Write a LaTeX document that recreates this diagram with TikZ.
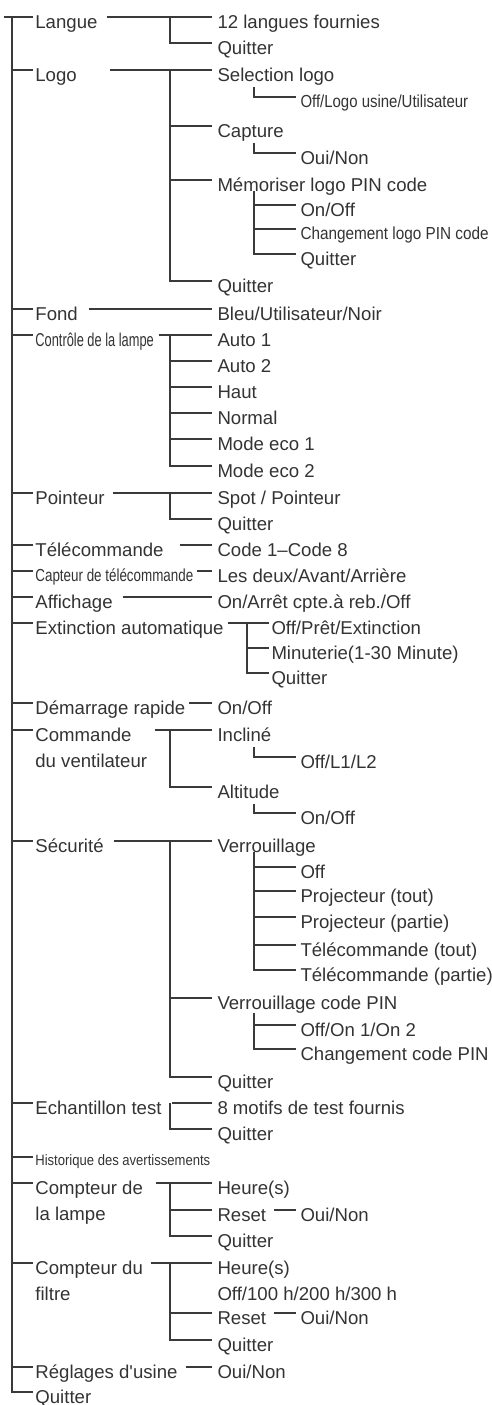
\documentclass[tikz,border=0pt]{standalone}
\usepackage{fontspec}
\usepackage{graphicx}
\setmainfont{Liberation Sans}[Ligatures=TeXOff]
\usetikzlibrary{calc}
\definecolor{lc}{HTML}{3A3A3A}
\definecolor{tc}{HTML}{333333}
\begin{document}
\begin{tikzpicture}[x=1pt,y=-1pt,
  ln/.style={draw=lc, line width=1.2pt},
  t/.style={inner sep=0pt, outer sep=0pt, anchor=west, text=tc,
    font=\fontsize{18.6}{20}\selectfont, text height=24.6pt, text depth=2pt},
  tL/.style={t, font=\fontsize{18.6}{20}\selectfont, text height=24.6pt, text depth=2pt},
  tm/.style={t, font=\fontsize{17.4}{19}\selectfont, text height=23.2pt, text depth=2pt},
  ts/.style={t, font=\fontsize{15}{17}\selectfont, text height=19.6pt, text depth=2pt}]
\useasboundingbox (0,0) rectangle (492,1405);
% columns
\coordinate (X0) at (4,0);
\coordinate (T) at (12,0);
\coordinate (E1) at (33,0);
\coordinate (B2) at (170,0);
\coordinate (E2) at (212,0);
\coordinate (B3) at (254,0);
\coordinate (E3) at (296,0);
\coordinate (BX) at (247,0);
\coordinate (EX) at (269,0);
% level 1
\node[t] (l1) at (35.4,17) {Langue};
\node[t] (l2) at (35.4,70) {Logo};
\node[t] (l3) at (35.4,309) {Fond};
\node[tL] (l4) at (35.4,335) {\scalebox{0.69}[1]{Contrôle de la lampe}};
\node[t] (l5) at (35.4,493) {Pointeur};
\node[t] (l6) at (35.4,545) {Télécommande};
\node[tm] (l7) at (35.4,571) {\scalebox{0.77}[1]{Capteur de télécommande}};
\node[t] (l8) at (35.4,597) {Affichage};
\node[t] (l9) at (35.4,623) {Extinction automatique};
\node[t] (l10) at (35.4,703) {Démarrage rapide};
\node[t] (l11) at (35.4,730) {Commande};
\node[t] (l11b) at (35.4,756.5) {du ventilateur};
\node[t] (l12) at (35.4,841) {Sécurité};
\node[t] (l13) at (35.4,1103) {Echantillon test};
\node[ts] (l14) at (35.4,1157) {\scalebox{0.87}[1]{Historique des avertissements}};
\node[t] (l15) at (35.4,1183) {Compteur de};
\node[t] (l15b) at (35.4,1209.5) {la lampe};
\node[t] (l16) at (35.4,1263) {Compteur du};
\node[t] (l16b) at (35.4,1289.5) {filtre};
\node[t] (l17) at (35.4,1367) {Réglages d'usine};
\node[t] (l18) at (35.4,1392) {Quitter};
% level 2
\node[t] (a1) at (217.5,17) {12 langues fournies};
\node[t] (a2) at (217.5,43) {Quitter};
\node[t] (b1) at (217.5,70) {Selection logo};
\node[t] (b2) at (217.5,126) {Capture};
\node[t] (b3) at (217.5,180) {Mémoriser logo PIN code};
\node[t] (b4) at (217.5,281) {Quitter};
\node[t] (c1) at (217.5,309) {Bleu/Utilisateur/Noir};
\node[t] (d1) at (217.5,335) {Auto 1};
\node[t] (d2) at (217.5,361) {Auto 2};
\node[t] (d3) at (217.5,387) {Haut};
\node[t] (d4) at (217.5,413) {Normal};
\node[t] (d5) at (217.5,439) {Mode eco 1};
\node[t] (d6) at (217.5,466) {Mode eco 2};
\node[t] (e1) at (217.5,493) {Spot / Pointeur};
\node[t] (e2) at (217.5,519) {Quitter};
\node[t] (f1) at (217.5,545) {Code 1–Code 8};
\node[t] (g1) at (217.5,571) {Les deux/Avant/Arrière};
\node[t] (h1) at (217.5,597) {On/Arrêt cpte.à reb./Off};
\node[t] (i1) at (271.5,623) {Off/Prêt/Extinction};
\node[t] (i2) at (271.5,648) {Minuterie(1-30 Minute)};
\node[t] (i3) at (271.5,673) {Quitter};
\node[t] (j1) at (217.5,703) {On/Off};
\node[t] (k1) at (217.5,730) {Incliné};
\node[t] (k2) at (217.5,787) {Altitude};
\node[t] (m1) at (217.5,841) {Verrouillage};
\node[t] (m2) at (217.5,998) {Verrouillage code PIN};
\node[t] (m3) at (217.5,1077) {Quitter};
\node[t] (n1) at (217.5,1103) {8 motifs de test fournis};
\node[t] (n2) at (217.5,1129) {Quitter};
\node[t] (o1) at (217.5,1183) {Heure(s)};
\node[t] (o2) at (217.5,1210) {Reset};
\node[t] (o3) at (217.5,1236) {Quitter};
\node[t] (p1) at (217.5,1263) {Heure(s)};
\node[t] (p0) at (217.5,1289) {Off/100 h/200 h/300 h};
\node[t] (p2) at (217.5,1313) {Reset};
\node[t] (p3) at (217.5,1340) {Quitter};
\node[t] (q1) at (217.5,1367) {Oui/Non};
% level 3
\node[tm] (b1a) at (300.5,97) {\scalebox{0.86}[1]{Off/Logo usine/Utilisateur}};
\node[t] (b2a) at (300.5,153) {Oui/Non};
\node[t] (b3a) at (300.5,205) {On/Off};
\node[tm] (b3b) at (300.5,229) {\scalebox{0.88}[1]{Changement logo PIN code}};
\node[t] (b3c) at (300.5,254) {Quitter};
\node[t] (k1a) at (300.5,757) {Off/L1/L2};
\node[t] (k2a) at (300.5,813) {On/Off};
\node[t] (m1a) at (300.5,867) {Off};
\node[t] (m1b) at (300.5,891) {Projecteur (tout)};
\node[t] (m1c) at (300.5,917) {Projecteur (partie)};
\node[t] (m1d) at (300.5,945) {Télécommande (tout)};
\node[t] (m1e) at (300.5,970) {Télécommande (partie)};
\node[t] (m2a) at (300.5,1025) {Off/On 1/On 2};
\node[t] (m2b) at (300.5,1049) {Changement code PIN};
\node[t] (o2a) at (300.5,1210) {Oui/Non};
\node[t] (p2a) at (300.5,1313) {Oui/Non};
% trunk
\draw[ln] (X0 |- l1.west) -- (l1.west -| E1);
\draw[ln] (T |- l1.west) -- (T |- l18.west) -- (l18.west -| E1);
\foreach \n in {l2,l3,l4,l5,l6,l7,l8,l9,l10,l11,l12,l13,l14,l15,l16,l17}
  {\draw[ln] (T |- \n.west) -- (\n.west -| E1);}
% Langue
\draw[ln] ([xshift=10pt]l1.east) -- (a1.west -| E2);
\draw[ln] (B2 |- a1.west) |- (a2.west -| E2);
% Logo
\draw[ln] ([xshift=33pt]l2.east) -- (b1.west -| E2);
\draw[ln] (B2 |- b1.west) |- (b4.west -| E2);
\foreach \n in {b2,b3} {\draw[ln] (B2 |- \n.west) -- (\n.west -| E2);}
\draw[ln] ($(b1.west -| B3)+(0,17)$) |- (b1a.west -| E3);
\draw[ln] ($(b2.west -| B3)+(0,17)$) |- (b2a.west -| E3);
\draw[ln] ($(b3.west -| B3)+(0,11)$) |- (b3c.west -| E3);
\foreach \n in {b3a,b3b} {\draw[ln] (B3 |- \n.west) -- (\n.west -| E3);}
% Fond
\draw[ln] ([xshift=11pt]l3.east) -- (c1.west -| E2);
% Controle
\draw[ln] ([xshift=5pt]l4.east) -- (d1.west -| E2);
\draw[ln] (B2 |- d1.west) |- (d6.west -| E2);
\foreach \n in {d2,d3,d4,d5} {\draw[ln] (B2 |- \n.west) -- (\n.west -| E2);}
% Pointeur
\draw[ln] ([xshift=8pt]l5.east) -- (e1.west -| E2);
\draw[ln] (B2 |- e1.west) |- (e2.west -| E2);
% Telecommande, Capteur, Affichage
\draw[ln] ([xshift=16pt]l6.east) -- (f1.west -| E2);
\draw[ln] ([xshift=4pt]l7.east) -- (g1.west -| E2);
\draw[ln] ([xshift=10pt]l8.east) -- (h1.west -| E2);
% Extinction
\draw[ln] ([xshift=4pt]l9.east) -- (i1.west -| EX);
\draw[ln] (BX |- i1.west) |- (i3.west -| EX);
\draw[ln] (BX |- i2.west) -- (i2.west -| EX);
% Demarrage
\draw[ln] ([xshift=4pt]l10.east) -- (j1.west -| E2);
% Commande
\draw[ln] ([xshift=23pt]l11.east) -- (k1.west -| E2);
\draw[ln] (B2 |- k1.west) |- (k2.west -| E2);
\draw[ln] ($(k1.west -| B3)+(0,17)$) |- (k1a.west -| E3);
\draw[ln] ($(k2.west -| B3)+(0,17)$) |- (k2a.west -| E3);
% Securite
\draw[ln] ([xshift=10pt]l12.east) -- (m1.west -| E2);
\draw[ln] (B2 |- m1.west) |- (m3.west -| E2);
\draw[ln] (B2 |- m2.west) -- (m2.west -| E2);
\draw[ln] ($(m1.west -| B3)+(0,11)$) |- (m1e.west -| E3);
\foreach \n in {m1a,m1b,m1c,m1d} {\draw[ln] (B3 |- \n.west) -- (\n.west -| E3);}
\draw[ln] ($(m2.west -| B3)+(0,15)$) |- (m2b.west -| E3);
\draw[ln] (B3 |- m2a.west) -- (m2a.west -| E3);
% Echantillon
\draw[ln] ([xshift=10pt]l13.east) -- (n1.west -| E2);
\draw[ln] (B2 |- n1.west) |- (n2.west -| E2);
% Compteur de la lampe
\draw[ln] ([xshift=12.7pt]l15.east) -- (o1.west -| E2);
\draw[ln] (B2 |- o1.west) |- (o3.west -| E2);
\draw[ln] (B2 |- o2.west) -- (o2.west -| E2);
\draw[ln] ([xshift=8pt]o2.east) -- (o2a.west -| E3);
% Compteur du filtre
\draw[ln] ([xshift=8pt]l16.east) -- (p1.west -| E2);
\draw[ln] (B2 |- p1.west) |- (p3.west -| E2);
\draw[ln] (B2 |- p2.west) -- (p2.west -| E2);
\draw[ln] ([xshift=8pt]p2.east) -- (p2a.west -| E3);
% Reglages
\draw[ln] ([xshift=8pt]l17.east) -- (q1.west -| E2);
\end{tikzpicture}
\end{document}
